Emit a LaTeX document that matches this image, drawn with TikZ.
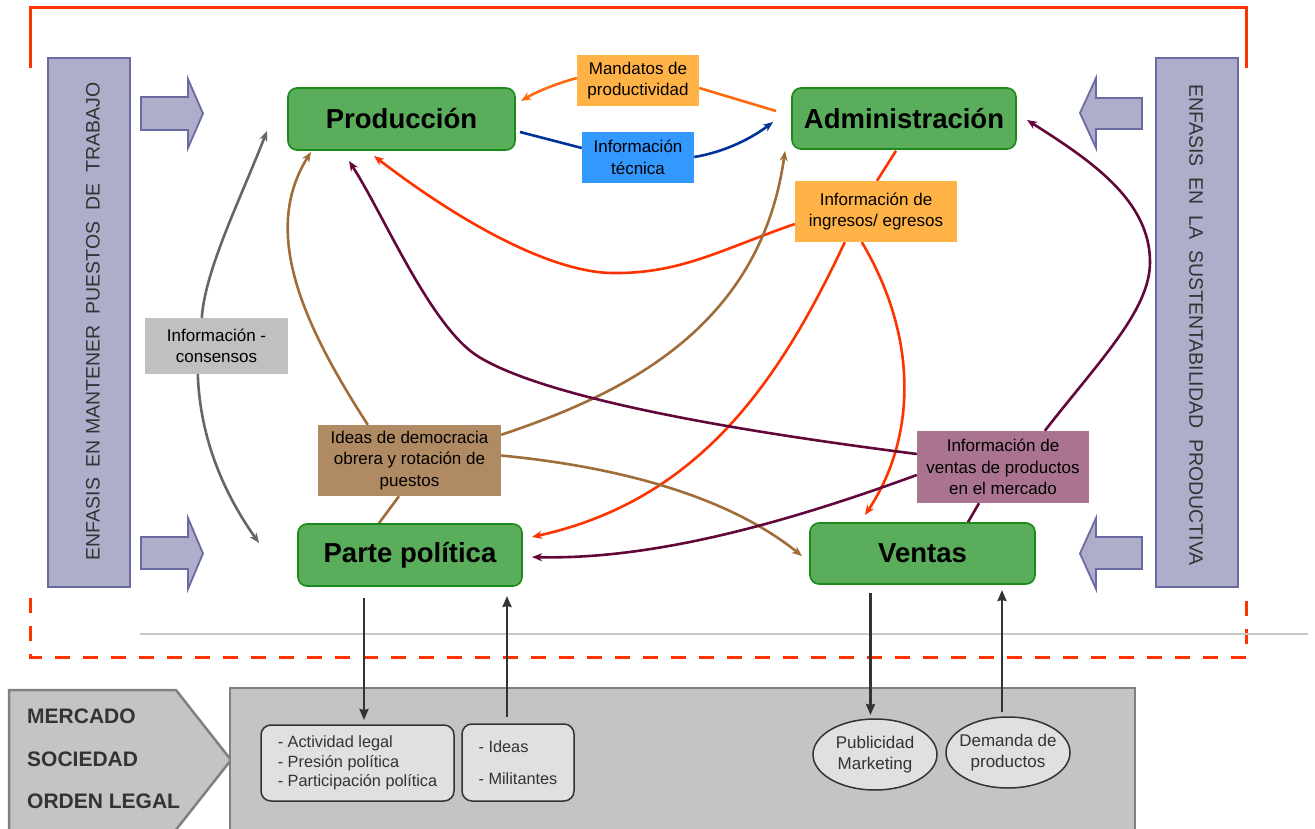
\documentclass[tikz,border=0pt]{standalone}
\usepackage{fontspec}
\setmainfont{Liberation Sans}
\usetikzlibrary{arrows.meta,calc,shapes.geometric}

\definecolor{redline}{HTML}{FF3300}
\definecolor{barfill}{HTML}{AEAECB}
\definecolor{bardraw}{HTML}{6A6AA2}
\definecolor{gfill}{HTML}{5AAD5A}
\definecolor{gdraw}{HTML}{1A8A1A}
\definecolor{orangebox}{HTML}{FFB347}
\definecolor{bluebox}{HTML}{3399FF}
\definecolor{graybox}{HTML}{C0C0C0}
\definecolor{brownbox}{HTML}{B08A62}
\definecolor{mauvebox}{HTML}{AA7490}
\definecolor{orangeline}{HTML}{FF6A10}
\definecolor{blueline}{HTML}{003399}
\definecolor{redarrow}{HTML}{FF3300}
\definecolor{brownline}{HTML}{A06C3A}
\definecolor{maroonline}{HTML}{62073A}
\definecolor{grayline}{HTML}{666666}
\definecolor{envfill}{HTML}{C4C4C4}
\definecolor{envdraw}{HTML}{808080}
\definecolor{itemfill}{HTML}{E0E0E0}
\definecolor{darktext}{HTML}{333333}
\definecolor{sepline}{HTML}{C8C8C8}

\pgfdeclarelayer{back}
\pgfdeclarelayer{conn}
\pgfsetlayers{back,conn,main}

\tikzset{
  greenbox/.style={draw=gdraw,fill=gfill,line width=1.6pt,rounded corners=9pt,inner sep=0pt,
    font=\fontsize{27.5}{30}\selectfont\bfseries},
  labelbox/.style={inner sep=0pt,align=center,text=black,font=\fontsize{17}{21.5}\selectfont},
  conn/.style={line width=2.6pt,-{Stealth[length=10pt,width=8pt,inset=3pt]}},
  plainline/.style={line width=2.6pt},
  vbar/.style={draw=bardraw,fill=barfill,line width=1.8pt,inner sep=0pt},
  blockarrow/.style={draw=bardraw,fill=barfill,line width=1.8pt},
  darrow/.style={draw=darktext,line width=2.6pt,-{Stealth[length=11pt,width=9pt,inset=1pt]}},
  itembox/.style={draw=darktext,fill=itemfill,line width=1.5pt,rounded corners=10pt,inner sep=0pt,
    align=left,text=darktext,font=\fontsize{16.3}{19.5}\selectfont},
  itemell/.style={ellipse,draw=darktext,fill=itemfill,line width=1.5pt,inner xsep=-16pt,inner ysep=-10pt,
    align=center,text=darktext,font=\fontsize{17}{21.3}\selectfont},
  envtext/.style={anchor=west,inner sep=0pt,text=darktext,font=\fontsize{21}{24}\selectfont\bfseries},
  vtext/.style={inner sep=0pt,text=darktext,font=\fontsize{19.5}{20}\selectfont}
}

\begin{document}
\begin{tikzpicture}[x=1pt,y=-1pt]
\useasboundingbox (0,0) rectangle (1315,829);

\begin{pgfonlayer}{back}
% frame lines
\draw[redline,line width=3pt] (30,68) -- (30,8) -- (1246,8) -- (1246,68);
\draw[redline,line width=3pt,dash pattern=on 15pt off 13pt] (30,598) -- (30,657) -- (1246,657) -- (1246,598);
\draw[sepline,line width=2pt] (140,634) -- (1308,634);
% bottom environment shapes
\draw[envdraw,fill=envfill,line width=2.5pt] (9,690) -- (176,690) -- (231,760) -- (164,845) -- (9,845) -- cycle;
\draw[envdraw,fill=envfill,line width=2.5pt] (230,688) rectangle (1135,845);
\end{pgfonlayer}

\node[envtext] (mercado) at (27,716) {MERCADO};
\node[envtext] (sociedad) at (27,759) {SOCIEDAD};
\node[envtext] (orden) at (27,801.5) {ORDEN LEGAL};

\node[itembox,minimum width=193pt,minimum height=76pt] (actividad) at (357.5,763)
  {- Actividad legal\\- Presión política\\- Participación política};
\node[itembox,minimum width=112pt,minimum height=77pt] (ideasbox) at (518,762.5)
  {- Ideas\\[12pt]- Militantes};
\node[itemell,minimum width=124pt,minimum height=71pt] (publicidad) at (875,754.5)
  {Publicidad\\Marketing};
\node[itemell,minimum width=124pt,minimum height=71pt] (demanda) at (1008,752.5)
  {Demanda de\\productos};

% side bars
\node[vbar,minimum width=82pt,minimum height=529pt] (leftbar) at (89,322.5) {};
\node[vbar,minimum width=82pt,minimum height=529pt] (rightbar) at (1197,322.5) {};
\node[vtext,rotate=90] (ltext) at (93,321.5) {ENFASIS\ \ EN MANTENER\ \ PUESTOS\ \ DE\ \ TRABAJO};
\node[vtext,rotate=-90] (rtext) at (1196,325) {ENFASIS\ \ EN\ \ LA\ \ SUSTENTABILIDAD\ \ PRODUCTIVA};

% block arrows
\draw[blockarrow] (141,97) -- (188,97) -- (188,79) -- (203,113.5) -- (188,148) -- (188,130) -- (141,130) -- cycle;
\draw[blockarrow] (141,537) -- (188,537) -- (188,518) -- (203,553.5) -- (188,589) -- (188,569) -- (141,569) -- cycle;
\draw[blockarrow] (1142,98) -- (1096,98) -- (1096,78) -- (1080,113) -- (1096,148) -- (1096,129) -- (1142,129) -- cycle;
\draw[blockarrow] (1142,537) -- (1096,537) -- (1096,518) -- (1080,553.5) -- (1096,589) -- (1096,569) -- (1142,569) -- cycle;

% main nodes
\node[greenbox,minimum width=227pt,minimum height=62pt] (prod) at (401.5,119) {Producción};
\node[greenbox,minimum width=224pt,minimum height=61pt] (admin) at (904,118.5) {Administración};
\node[greenbox,minimum width=224pt,minimum height=62pt] (parte) at (410,555) {Parte política};
\node[greenbox,minimum width=225pt,minimum height=61pt] (ventas) at (922.5,553.5) {Ventas};

% label nodes
\node[labelbox,fill=orangebox,minimum width=122pt,minimum height=51pt] (mandatos) at (638,80.5) {Mandatos de\\productividad};
\node[labelbox,fill=bluebox,minimum width=112pt,minimum height=51pt] (tecnica) at (638,157.5) {Información\\técnica};
\node[labelbox,fill=orangebox,minimum width=162pt,minimum height=61pt] (ingresos) at (876,211.5) {Información de\\ingresos/ egresos};
\node[labelbox,fill=graybox,minimum width=143pt,minimum height=56pt] (consensos) at (216.5,346) {Información -\\consensos};
\node[labelbox,fill=brownbox,minimum width=183pt,minimum height=71pt] (ideas) at (409.5,460.5) {Ideas de democracia\\obrera y rotación de\\puestos};
\node[labelbox,fill=mauvebox,minimum width=172pt,minimum height=72pt] (vinfo) at (1003,467) {Información de\\ventas de productos\\en el mercado};

% free end coordinates
\coordinate (mA) at (776,111);
\coordinate (mD) at (521,101);
\coordinate (tA) at (520,132);
\coordinate (tD) at (773,122);
\coordinate (tipProdRed) at (374,156);
\coordinate (tipParteRed) at (532,537);
\coordinate (tipVentasRed) at (865,515);
\coordinate (tipProdBrown) at (311,152);
\coordinate (tipAdminBrown) at (785,151);
\coordinate (tipVentasBrown) at (802,556);
\coordinate (tipProdGray) at (267,131);
\coordinate (tipParteGray) at (259,543);
\coordinate (tipProdMaroon) at (349,161);
\coordinate (tipParteMaroon) at (532,557);
\coordinate (tipAdminMaroon) at (1027,120);
\coordinate (pDownA) at (364,598);
\coordinate (pDownB) at (364,720);
\coordinate (pUpA) at (507,717);
\coordinate (pUpB) at (507,596);
\coordinate (vDownA) at (870.5,593);
\coordinate (vDownB) at (870.5,715);
\coordinate (vUpA) at (1002,712);
\coordinate (vUpB) at (1002,590);

\begin{pgfonlayer}{conn}
% Mandatos de productividad
\draw[plainline,orangeline] (mA) -- ($(mandatos.east)+(0,7.5)$);
\draw[conn,orangeline] ($(mandatos.west)+(0,-2.5)$) .. controls (555,84) and (536,92) .. (mD);
% Informacion tecnica
\draw[plainline,blueline] (tA) -- ($(tecnica.west)+(0,-9.5)$);
\draw[conn,blueline] ($(tecnica.east)+(0,-0.5)$) .. controls (725,152) and (752,138) .. (tD);
% Informacion de ingresos / egresos
\draw[plainline,redarrow] ($(admin.south)+(-8,1)$) -- ($(ingresos.north)+(1,0)$);
\draw[conn,redarrow] ($(ingresos.west)+(0,12.5)$) .. controls (720,250) and (680,274) .. (612,273)
  .. controls (550,272) and (460,222) .. (tipProdRed);
\draw[conn,redarrow] ($(ingresos.south west)+(50,0)$) .. controls (780,380) and (700,500) .. (tipParteRed);
\draw[conn,redarrow] ($(ingresos.south west)+(67,0)$) .. controls (920,340) and (915,440) .. (tipVentasRed);
% Ideas de democracia obrera
\draw[conn,brownline] ($(ideas.north west)+(50,0)$) .. controls (300,320) and (262,230) .. (tipProdBrown);
\draw[conn,brownline] ($(ideas.north east)+(0,10)$) .. controls (620,395) and (760,330) .. (tipAdminBrown);
\draw[conn,brownline] ($(ideas.east)+(0,-5)$) .. controls (600,465) and (720,490) .. (tipVentasBrown);
\draw[plainline,brownline] ($(ideas.south)+(-10.5,0)$) -- ($(parte.north)+(-31,0)$);
% Informacion - consensos
\draw[conn,grayline] ($(consensos.north west)+(57,0)$) .. controls (205,270) and (240,200) .. (tipProdGray);
\draw[conn,grayline] ($(consensos.south west)+(53,0)$) .. controls (200,440) and (225,495) .. (tipParteGray);
% Informacion de ventas
\draw[conn,maroonline] ($(vinfo.west)+(0,-13)$) .. controls (800,439) and (560,406) .. (479,357)
  .. controls (431,328) and (384,215) .. (tipProdMaroon);
\draw[conn,maroonline] ($(vinfo.west)+(0,8)$) .. controls (780,525) and (650,560) .. (tipParteMaroon);
\draw[conn,maroonline] ($(vinfo.north west)+(128,0)$) .. controls (1100,360) and (1150,310) .. (1150,262)
  .. controls (1150,200) and (1090,160) .. (tipAdminMaroon);
\draw[plainline,maroonline] ($(vinfo.south)+(-24,0)$) -- ($(ventas.north)+(45.5,0)$);
\end{pgfonlayer}

% vertical exchange arrows
\draw[darrow] (pDownA) -- (pDownB);
\draw[darrow] (pUpA) -- (pUpB);
\draw[darrow] (vDownA) -- (vDownB);
\draw[darrow] (vUpA) -- (vUpB);
\end{tikzpicture}
\end{document}
